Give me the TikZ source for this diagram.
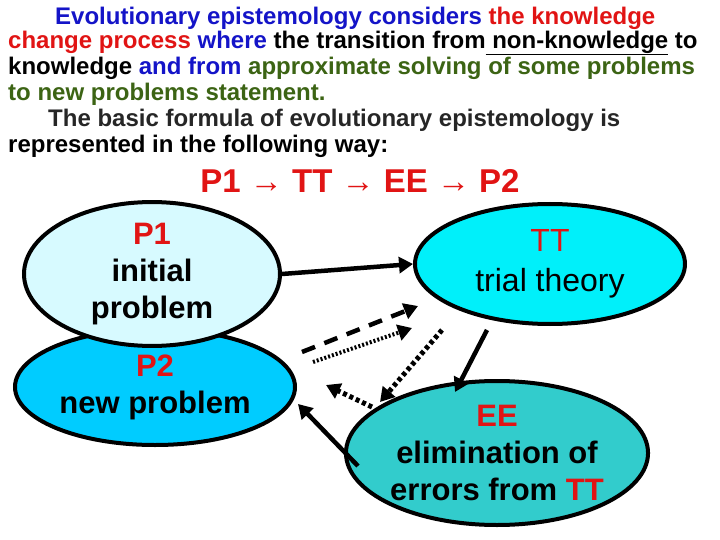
\documentclass[tikz,border=0pt]{standalone}
\usepackage{fontspec}
\setmainfont{Liberation Sans}
\usetikzlibrary{shapes.geometric,arrows.meta}
\definecolor{tblue}{RGB}{20,20,200}
\definecolor{tred}{RGB}{225,20,20}
\definecolor{tgreen}{RGB}{60,100,20}
\definecolor{cP1}{RGB}{215,250,255}
\definecolor{cP2}{RGB}{0,204,255}
\definecolor{cTT}{RGB}{0,240,250}
\definecolor{cEE}{RGB}{50,204,204}
\begin{document}
\begin{tikzpicture}[x=1pt,y=-1pt,
  tl/.style={anchor=west,inner sep=0pt,font=\fontsize{24}{28}\selectfont\bfseries},
  ell/.style={draw=black,line width=4pt,ellipse,inner sep=0pt,align=center,font=\fontsize{31}{37}\selectfont\bfseries},
  thick arrow/.style={line width=4.5pt,-{Triangle[length=14pt,width=16pt]}},
  dsh/.style={line width=4.5pt,dash pattern=on 14pt off 10pt,-{Triangle[length=14pt,width=16pt]}},
  dtt/.style={line width=4pt,dash pattern=on 2pt off 2pt,-{Triangle[length=14pt,width=16pt]}},
  dtt2/.style={line width=5pt,dash pattern=on 4pt off 3pt,-{Triangle[length=14pt,width=16pt]}}]
\useasboundingbox (0,0) rectangle (720,540);
\fill[white] (0,0) rectangle (720,540);
\node[tl] (l1) at (55,18) {\color{tblue}Evolutionary epistemology considers \color{tred}the knowledge};
\node[tl] (l2) at (8,43) {\color{tred}change process \color{tblue}where \color{black} the transition from\underline{ non-knowledge} to};
\node[tl] (l3) at (8,68) {knowledge \color{tblue}and from \color{tgreen}approximate solving of some problems};
\node[tl,text=tgreen] (l4) at (8,94) {to new problems statement.};
\node[tl,text=black!85] (l5) at (48,120) {The basic formula of evolutionary epistemology is};
\node[tl] (l6) at (8,146) {represented in the following way:};
\node[inner sep=0pt,text=tred,font=\fontsize{33}{36}\selectfont\bfseries] (f) at (360,181) {P1 → TT → EE → P2};
% ellipses
\node[ell,fill=cP2,minimum width=280pt,minimum height=116pt] (p2) at (155,387) {\color{tred}P2\\new problem};
\node[ell,fill=cP1,minimum width=256pt,minimum height=124pt] (p1) at (152,274) {\color{tred}P1\\initial\\problem};
\node[ell,fill=cTT,minimum width=270pt,minimum height=120pt,font=\fontsize{32}{40}\selectfont] (tt) at (550,264) {\color{tred}TT\\trial theory};
\node[ell,fill=cEE,minimum width=290pt,minimum height=144pt] (ee) at (497,453) {\color{tred}EE\\elimination of\\errors from \color{tred}TT};
% arrows
\coordinate (b1) at (487,330); \coordinate (b2) at (455,392);
\coordinate (c1) at (358,466); \coordinate (c2) at (298,404);
\coordinate (d1) at (302,352); \coordinate (d2) at (418,306);
\coordinate (e1) at (313,362); \coordinate (e2) at (412,328);
\coordinate (g1) at (442,330); \coordinate (g2) at (380,402);
\coordinate (h1) at (372,407); \coordinate (h2) at (326,385);
\draw[thick arrow] (p1.east) -- (tt.west);
\draw[thick arrow] (b1) -- (b2);
\draw[thick arrow] (c1) -- (c2);
\draw[dsh] (d1) -- (d2);
\draw[dtt] (e1) -- (e2);
\draw[dtt2] (g1) -- (g2);
\draw[dtt2] (h1) -- (h2);
\end{tikzpicture}
\end{document}
